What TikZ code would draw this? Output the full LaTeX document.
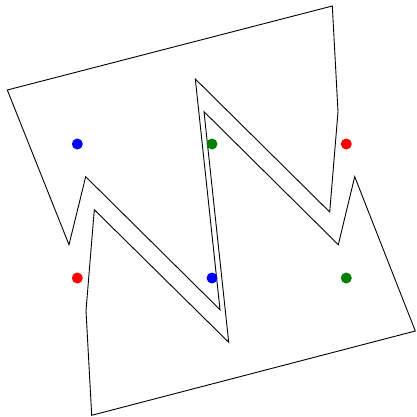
\documentclass[tikz,border=0pt]{standalone}
\definecolor{dotgreen}{RGB}{0,128,0}
\begin{document}
\begin{tikzpicture}[x=1pt,y=-1pt,
  shape line/.style={draw=black,line width=0.9pt,line join=miter},
  dot/.style={circle,inner sep=0pt,minimum size=11pt,draw=none}]
\useasboundingbox (0,0) rectangle (416,417);
% upper shape
\draw[shape line] (7.3,90) -- (332.3,6) -- (338,111.7) -- (329.7,212) -- (195.3,79)
  -- (220,309.7) -- (85.7,176.7) -- (69,244.7) -- cycle;
% lower shape
\draw[shape line] (415.3,331) -- (91.7,415.3) -- (86,310.7) -- (94.3,209.7) -- (228.7,342.3)
  -- (204,111.7) -- (338.3,244.7) -- (354.7,176.7) -- cycle;
% dots
\node[dot,fill=blue] (b1) at (77.3,144) {};
\node[dot,fill=dotgreen] (g1) at (212,144) {};
\node[dot,fill=red] (r1) at (346.3,144) {};
\node[dot,fill=red] (r2) at (77.3,278) {};
\node[dot,fill=blue] (b2) at (212,278) {};
\node[dot,fill=dotgreen] (g2) at (346.3,278) {};
\end{tikzpicture}
\end{document}
